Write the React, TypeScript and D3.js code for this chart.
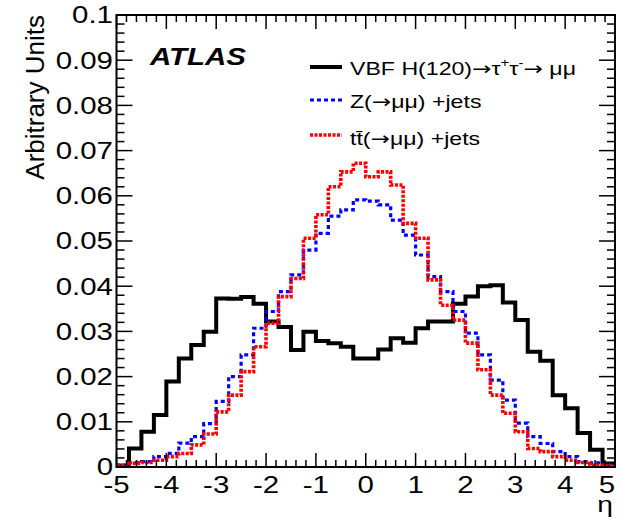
import React from 'react';
import * as d3 from 'd3';

// eta bin edges (0.25 wide)
const binEdges = [-5, -4.75, -4.5, -4.25, -4, -3.75, -3.5, -3.25, -3, -2.75, -2.5, -2.25, -2, -1.75, -1.5, -1.25, -1, -0.75, -0.5, -0.25,
  0, 0.25, 0.5, 0.75, 1, 1.25, 1.5, 1.75, 2, 2.25, 2.5, 2.75, 3, 3.25, 3.5, 3.75, 4, 4.25, 4.5, 4.75, 5];

// VBF H(120) -> tautau -> mumu
const vbfH = [0.0003, 0.0041, 0.0078, 0.0115, 0.0189, 0.0240, 0.0270, 0.0299, 0.0373, 0.0372,
  0.0376, 0.0361, 0.0322, 0.0310, 0.0259, 0.0299, 0.0279, 0.0274, 0.0266, 0.0240,
  0.0240, 0.0260, 0.0285, 0.0275, 0.0307, 0.0322, 0.0322, 0.0361, 0.0377, 0.0400,
  0.0402, 0.0364, 0.0325, 0.0255, 0.0235, 0.0159, 0.0130, 0.0075, 0.0038, 0.0008];

// Z(->mumu) + jets
const zJets = [0.0004, 0.0010, 0.0012, 0.0023, 0.0030, 0.0053, 0.0067, 0.0096, 0.0145, 0.0200,
  0.0248, 0.0307, 0.0344, 0.0388, 0.0425, 0.0480, 0.0517, 0.0555, 0.0569, 0.0591,
  0.0588, 0.0580, 0.0546, 0.0513, 0.0469, 0.0421, 0.0388, 0.0344, 0.0296, 0.0248,
  0.0192, 0.0148, 0.0097, 0.0067, 0.0052, 0.0034, 0.0023, 0.0012, 0.0009, 0.0002];

// ttbar(->mumu) + jets
const ttJets = [0.0004, 0.0008, 0.0010, 0.0015, 0.0023, 0.0030, 0.0049, 0.0073, 0.0122, 0.0159,
  0.0211, 0.0266, 0.0318, 0.0377, 0.0417, 0.0506, 0.0558, 0.0620, 0.0653, 0.0672,
  0.0642, 0.0653, 0.0624, 0.0539, 0.0506, 0.0414, 0.0358, 0.0325, 0.0274, 0.0215,
  0.0159, 0.0119, 0.0078, 0.0041, 0.0034, 0.0023, 0.0015, 0.0010, 0.0004, 0.0003];

const xTicks = [-5, -4, -3, -2, -1, 0, 1, 2, 3, 4, 5];
const yTicks = [0, 0.01, 0.02, 0.03, 0.04, 0.05, 0.06, 0.07, 0.08, 0.09, 0.1];

const W = 621, H = 519;
const FONT = 'Liberation Sans, Arial, Helvetica, sans-serif';
const ARROW_FONT = 'DejaVu Sans, sans-serif';
const SX = 1.28; // text in the picture is stretched sideways

function SText(props: any) {
  const { x, y, size, anchor, weight, italic, sx, children } = props;
  return (
    <text
      transform={`translate(${x},${y}) scale(${sx || SX},1)`}
      fontFamily={FONT}
      fontSize={size}
      fontWeight={weight || 'normal'}
      fontStyle={italic ? 'italic' : 'normal'}
      textAnchor={anchor || 'start'}
      fill="#000"
    >
      {children}
    </text>
  );
}

const Arrow = () => <tspan fontFamily={ARROW_FONT}>→</tspan>;

export default function App() {
  const x = d3.scaleLinear().domain([-5, 5]).range([116.5, 615]);
  const y = d3.scaleLinear().domain([0, 0.1]).range([467, 15]);

  const histPath = (vals: number[]) => {
    const pts: [number, number][] = binEdges.map((e, i) => [e, vals[Math.min(i, vals.length - 1)]]);
    return d3.line<[number, number]>()
      .x(d => x(d[0]))
      .y(d => y(d[1]))
      .curve(d3.curveStepAfter)(pts) || '';
  };

  const xMinor = x.ticks(50);
  const yMinor = y.ticks(50);
  const x0 = x(-5), x1 = x(5), y0 = y(0), y1 = y(0.1);

  const fmtY = (v: number) => (v === 0 ? '0' : String(+v.toFixed(2)));

  return (
    <svg width={W} height={H} style={{ position: 'absolute', left: 0, top: 0, display: 'block', background: '#fff' }}>
      <rect width={W} height={H} fill="#fff" />

      {/* histograms */}
      <path d={histPath(vbfH)} fill="none" stroke="#000" strokeWidth={4} />
      <path d={histPath(zJets)} fill="none" stroke="#0000ff" strokeWidth={3.2} strokeDasharray="4,3" />
      <path d={histPath(ttJets)} fill="none" stroke="#ff0000" strokeWidth={3.6} strokeDasharray="3,1.5" />

      {/* frame */}
      <rect x={x0} y={y1} width={x1 - x0} height={y0 - y1} fill="none" stroke="#000" strokeWidth={2} />

      {/* ticks on all four sides */}
      <g stroke="#000" strokeWidth={1.5}>
        {xMinor.map(t => {
          const major = Math.abs(t - Math.round(t)) < 1e-6;
          const len = major ? 14 : 7;
          return (
            <g key={'xt' + t}>
              <line x1={x(t)} x2={x(t)} y1={y0} y2={y0 - len} />
              <line x1={x(t)} x2={x(t)} y1={y1} y2={y1 + len} />
            </g>
          );
        })}
        {yMinor.map(t => {
          const major = Math.abs(t * 100 - Math.round(t * 100)) < 1e-6;
          const len = major ? 16 : 8;
          return (
            <g key={'yt' + t}>
              <line x1={x0} x2={x0 + len} y1={y(t)} y2={y(t)} />
              <line x1={x1} x2={x1 - len} y1={y(t)} y2={y(t)} />
            </g>
          );
        })}
      </g>

      {/* tick labels */}
      {yTicks.map(t => (
        <SText key={'yl' + t} x={113} y={y(t) + 8.3} size={23} anchor="end">{fmtY(t)}</SText>
      ))}
      {xTicks.map(t => (
        <SText key={'xl' + t} x={t === 5 ? x(t) - 8 : x(t)} y={493} size={23} anchor="middle">{String(t)}</SText>
      ))}

      {/* axis titles */}
      <text transform={`translate(44,15) rotate(-90)`} fontFamily={FONT} fontSize={26} textAnchor="end" fill="#000">
        Arbitrary Units
      </text>
      <SText x={605} y={512} size={22} anchor="middle">η</SText>

      {/* ATLAS label */}
      <SText x={150} y={65} size={23} weight="bold" italic>ATLAS</SText>

      {/* legend */}
      <line x1={310} x2={342} y1={67} y2={67} stroke="#000" strokeWidth={4} />
      <line x1={310} x2={342} y1={100} y2={100} stroke="#0000ff" strokeWidth={3.2} strokeDasharray="4,3" />
      <line x1={310} x2={342} y1={135} y2={135} stroke="#ff0000" strokeWidth={3.6} strokeDasharray="3,1.5" />

      <SText x={350} y={75} size={18.5} sx={1.25}>
        VBF H(120)<Arrow />τ<tspan fontSize={12} dy={-8}>+</tspan><tspan dy={8}>τ</tspan>
        <tspan fontSize={12} dy={-8}>-</tspan><tspan dy={8}><Arrow /> μμ</tspan>
      </SText>
      <SText x={350} y={108} size={18.5} sx={1.25}>Z(<Arrow />μμ) +jets</SText>
      <SText x={350} y={145} size={18.5} sx={1.25}>tt̄(<Arrow />μμ) +jets</SText>
    </svg>
  );
}
